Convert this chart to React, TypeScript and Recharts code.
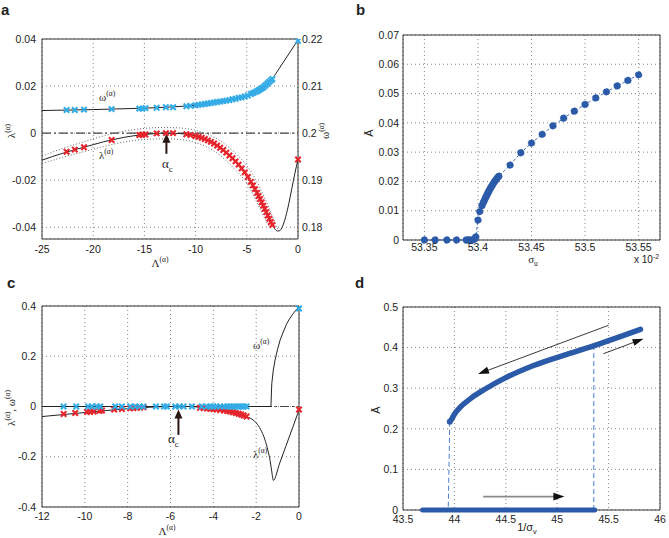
import React from "react";
import { LineChart, Line, XAxis, YAxis, CartesianGrid, ReferenceLine, ReferenceArea } from "recharts";

type P = [number, number];

// ---- panel a: lambda / omega vs Lambda ----
const aXTicks = [-25, -20, -15, -10, -5, 0];
const aLamTicks = [-0.04, -0.02, 0, 0.02, 0.04];
const aOmTicks = [0.18, 0.19, 0.2, 0.21, 0.22];
const aLamDomain: P = [-0.045, 0.04];
const aOmDomain: P = [0.1775, 0.22];

const aLamCurve: P[] = [
  [-25, -0.0115], [-24, -0.01], [-23, -0.0086], [-22, -0.0073], [-21, -0.0061], [-20, -0.0049],
  [-19, -0.0037], [-18, -0.0027], [-17, -0.0018], [-16, -0.0011], [-15, -0.0006], [-14, -0.0002],
  [-13, 0], [-12, -0.0001], [-11, -0.0004], [-10, -0.0012], [-9, -0.0027], [-8, -0.0049],
  [-7, -0.0083], [-6, -0.0124], [-5.5, -0.015], [-5, -0.018], [-4.5, -0.0215], [-4, -0.0254],
  [-3.5, -0.0298], [-3, -0.0346], [-2.6, -0.0383], [-2.3, -0.0405], [-2.0, -0.0416], [-1.8, -0.0415],
  [-1.5, -0.0395], [-1.2, -0.0355], [-0.9, -0.03], [-0.6, -0.0235], [-0.3, -0.017], [0, -0.0112],
];
const aLamUpper: P[] = [
  [-25, -0.0098], [-23, -0.0065], [-21, -0.0038], [-19, -0.0012], [-17, 0.0008], [-15, 0.002],
  [-13, 0.0024], [-11, 0.002], [-10, 0.0012], [-9, -0.0002], [-8, -0.0022], [-7, -0.0052],
  [-6, -0.009], [-5, -0.0138], [-4.5, -0.017], [-4, -0.0208], [-3.5, -0.0252], [-3, -0.03],
  [-2.5, -0.0352], [-2.2, -0.0388], [-1.9, -0.0414],
];
const aLamLower: P[] = [
  [-25, -0.013], [-23, -0.0103], [-21, -0.008], [-19, -0.0057], [-17, -0.0038], [-15, -0.0027],
  [-13, -0.0024], [-11, -0.003], [-10, -0.004], [-9, -0.0057], [-8, -0.0082], [-7, -0.0118],
  [-6, -0.0162], [-5, -0.0213], [-4.5, -0.0252], [-4, -0.0295], [-3.5, -0.034], [-3, -0.0383],
  [-2.6, -0.041],
];
const aLamMarks: P[] = [
  [-22.6, -0.0079], [-21.8, -0.007], [-20.9, -0.006], [-18.2, -0.0029], [-15.5, -0.0008], [-15.2, -0.0007],
  [-14.9, -0.0006], [-13.8, -0.0001], [-12.9, 0], [-12.2, 0], [-10.9, -0.0005], [-10.5, -0.0008],
  [-10.0, -0.0012], [-9.7, -0.0016], [-9.4, -0.002], [-9.1, -0.0025], [-8.8, -0.0031], [-8.5, -0.0037],
  [-8.2, -0.0044], [-7.9, -0.0053], [-7.6, -0.0062], [-7.3, -0.0072], [-7.0, -0.0083], [-6.7, -0.0095],
  [-6.4, -0.0107], [-6.1, -0.012], [-5.8, -0.0134], [-5.5, -0.015], [-5.2, -0.0167], [-4.9, -0.0186],
  [-4.6, -0.0207], [-4.4, -0.0222], [-4.2, -0.0238], [-4.0, -0.0254], [-3.85, -0.0267], [-3.7, -0.028],
  [-3.55, -0.0294], [-3.4, -0.0308], [-3.25, -0.0322], [-3.1, -0.0336], [-2.95, -0.035], [-2.8, -0.0364],
  [-2.65, -0.0378], [-2.5, -0.039], [0, -0.0112],
];
const aOmCurve: P[] = [
  [-25, 0.2048], [-20, 0.205], [-15, 0.2053], [-12, 0.2056], [-10, 0.2059], [-8, 0.2065],
  [-6, 0.2073], [-5, 0.2079], [-4, 0.2089], [-3.5, 0.2095], [-3, 0.2102], [-2.5, 0.2115],
  [-2.3, 0.2122], [0, 0.2198],
];
const aOmMarks: P[] = [
  [-22.6, 0.2049], [-21.8, 0.2049], [-20.9, 0.205], [-18.2, 0.2051], [-15.5, 0.2052], [-15.2, 0.2052],
  [-14.9, 0.2053], [-13.8, 0.2054], [-12.9, 0.2055], [-12.2, 0.2055], [-10.9, 0.2057], [-10.5, 0.2058],
  [-10.0, 0.2059], [-9.7, 0.206], [-9.4, 0.2061], [-9.1, 0.2062], [-8.8, 0.2063], [-8.5, 0.2064],
  [-8.2, 0.2065], [-7.9, 0.2066], [-7.6, 0.2067], [-7.3, 0.2068], [-7.0, 0.2069], [-6.7, 0.207],
  [-6.4, 0.2072], [-6.1, 0.2073], [-5.8, 0.2075], [-5.5, 0.2076], [-5.2, 0.2078], [-4.9, 0.208],
  [-4.6, 0.2083], [-4.4, 0.2085], [-4.2, 0.2087], [-4.0, 0.2089], [-3.85, 0.2091], [-3.7, 0.2093],
  [-3.55, 0.2095], [-3.4, 0.2097], [-3.25, 0.21], [-3.1, 0.2103], [-2.95, 0.2106], [-2.8, 0.2109],
  [-2.65, 0.2112], [-2.5, 0.2115], [0, 0.2196],
];
const aArrow: P[] = [[-12.85, -0.0088], [-12.85, -0.0003]];

// ---- panel b: A vs sigma_u ----
const bXTicks = [53.35, 53.4, 53.45, 53.5, 53.55];
const bYTicks = [0, 0.01, 0.02, 0.03, 0.04, 0.05, 0.06, 0.07];
const bPoints: P[] = [
  [53.35, 0], [53.36, 0], [53.371, 0], [53.38, 0], [53.389, 0], [53.391, 0], [53.393, 0], [53.395, 0],
  [53.397, 0.0003], [53.398, 0.0011], [53.4, 0.0068], [53.4016, 0.0097], [53.4037, 0.0117],
  [53.405, 0.0128], [53.4062, 0.0137], [53.4073, 0.0146], [53.4084, 0.0154], [53.4094, 0.0161],
  [53.4103, 0.0168], [53.4114, 0.0175], [53.4125, 0.0182], [53.4137, 0.0189], [53.4149, 0.0196],
  [53.416, 0.0202], [53.4171, 0.0207], [53.4183, 0.0213], [53.4195, 0.0218], [53.43, 0.0256],
  [53.44, 0.0298], [53.45, 0.0331], [53.46, 0.0361], [53.47, 0.039], [53.48, 0.0416], [53.49, 0.044],
  [53.5, 0.0463], [53.51, 0.0485], [53.52, 0.0506], [53.53, 0.0526], [53.54, 0.0545], [53.55, 0.0564],
];

// ---- panel c ----
const cXTicks = [-12, -10, -8, -6, -4, -2, 0];
const cYTicks = [-0.4, -0.2, 0, 0.2, 0.4];
const cLamCurve: P[] = [
  [-12, -0.04], [-11, -0.032], [-10, -0.024], [-9, -0.016], [-8, -0.009], [-7, -0.003], [-6.5, -0.001],
  [-6, 0], [-5, 0], [-4.6, -0.004], [-4, -0.01], [-3.5, -0.016], [-3, -0.024], [-2.5, -0.04],
  [-2.2, -0.05], [-2.0, -0.065], [-1.8, -0.09], [-1.6, -0.13], [-1.45, -0.175], [-1.35, -0.215],
  [-1.27, -0.26], [-1.2, -0.294], [-0.9, -0.225], [-0.6, -0.155], [-0.3, -0.085], [0, -0.014],
];
const cOmCurve: P[] = [
  [-12, 0], [-1.31, 0], [-1.29, 0.05], [-1.27, 0.092], [-1.2, 0.145], [-1.12, 0.184], [-1.0, 0.228],
  [-0.88, 0.265], [-0.72, 0.3], [-0.57, 0.33], [-0.42, 0.352], [-0.27, 0.37], [-0.13, 0.385], [0, 0.395],
];
const cLamMarks: P[] = [
  [-10.99, -0.03], [-10.45, -0.026], [-9.9, -0.022], [-9.75, -0.021], [-9.59, -0.02], [-9.31, -0.017],
  [-9.2, -0.016], [-8.63, -0.012], [-8.27, -0.01], [-7.88, -0.007], [-7.73, -0.006], [-7.57, -0.005],
  [-7.42, -0.004], [-7.26, -0.003], [-4.62, -0.005], [-4.46, -0.006], [-4.3, -0.008], [-4.15, -0.009],
  [-4.0, -0.01], [-3.85, -0.012], [-3.68, -0.014], [-3.5, -0.016], [-3.35, -0.018], [-3.22, -0.02],
  [-3.08, -0.023], [-2.95, -0.026], [-2.82, -0.029], [-2.7, -0.032], [-2.58, -0.036], [-2.45, -0.04],
  [0, -0.012],
];
const cOmMarks: P[] = [
  [-10.99, 0], [-10.4, 0], [-9.85, 0], [-9.67, 0], [-9.43, 0], [-9.28, 0], [-8.58, 0], [-8.27, 0],
  [-7.88, 0], [-7.65, 0], [-7.45, 0], [-7.26, 0], [-6.68, 0], [-6.3, 0], [-6.17, 0], [-5.78, 0],
  [-5.58, 0], [-5.39, 0], [-5.0, 0], [-4.54, 0], [-4.3, 0], [-4.15, 0], [-4.0, 0], [-3.85, 0],
  [-3.68, 0], [-3.5, 0], [-3.35, 0], [-3.22, 0], [-3.08, 0], [-2.95, 0], [-2.82, 0], [-2.7, 0],
  [-2.58, 0], [-2.45, 0], [0, 0.39],
];
const cArrow: P[] = [[-5.63, -0.113], [-5.63, -0.012]];

// ---- panel d: hysteresis ----
const dXTicks = [43.5, 44, 44.5, 45, 45.5, 46];
const dYTicks = [0, 0.1, 0.2, 0.3, 0.4, 0.5];
const dUpper: P[] = [
  [43.97, 0.222], [44.0, 0.236], [44.06, 0.254], [44.16, 0.275], [44.3, 0.298], [44.5, 0.326],
  [44.77, 0.356], [45.1, 0.384], [45.36, 0.405], [45.6, 0.426], [45.81, 0.445],
];
const dStart: P[] = [[43.955, 0.2175]];
const dLower: P[] = [[43.69, 0], [45.365, 0]];
const dJumpDown: P[] = [[43.955, 0.2175], [43.94, 0]];
const dJumpUp: P[] = [[45.356, 0], [45.356, 0.402]];
const dArrowBack: P[] = [[45.5, 0.455], [44.23, 0.335]];
const dArrowUp: P[] = [[45.45, 0.385], [45.84, 0.422]];
const dArrowLow: P[] = [[44.28, 0.033], [45.07, 0.033]];

const BLUE_X = "#34ace6";
const RED_X = "#e5242c";
const DOT_BLUE = "#2b5ba8";
const INK = "#222";
const SANS = "Liberation Sans, Arial, sans-serif";
const SERIF = "Liberation Serif, Times New Roman, serif";
const tickFont = { fontSize: 10.5, fill: INK, fontFamily: SANS };

const rows = (pts: P[]) => pts.map(([x, y]) => ({ x, y }));
const seg = (pts: P[]) => pts.map(([x, y]) => ({ x, y }));

const xMark = (color: string) => (p: any) => {
  const { cx, cy, index } = p;
  if (cx == null || cy == null) return <g key={index} />;
  const s = 2.7;
  return (
    <path key={index} d={`M${cx - s},${cy - s}L${cx + s},${cy + s}M${cx - s},${cy + s}L${cx + s},${cy - s}`}
      stroke={color} strokeWidth={2.1} fill="none" />
  );
};

const arrowShape = (shaft: string, head: string, w = 1, hl = 9, hw = 3.3) => (p: any) => {
  const { x1, y1, x2, y2 } = p;
  if ([x1, y1, x2, y2].some((v) => v == null || isNaN(v))) return <g />;
  const dx = x2 - x1, dy = y2 - y1;
  const len = Math.hypot(dx, dy) || 1;
  const ux = dx / len, uy = dy / len;
  const bx = x2 - ux * hl, by = y2 - uy * hl;
  const pts = `${x2},${y2} ${bx - uy * hw},${by + ux * hw} ${bx + uy * hw},${by - ux * hw}`;
  return (
    <g>
      <line x1={x1} y1={y1} x2={bx + ux * 1} y2={by + uy * 1} stroke={shaft} strokeWidth={w} />
      <polygon points={pts} fill={head} />
    </g>
  );
};

type Part = [string, "n" | "sup" | "sub"];
function Lbl({ x, y, parts, size = 12, anchor = "start", rotate = false, family = SERIF, weight }: {
  x: number; y: number; parts: Part[]; size?: number; anchor?: "start" | "middle" | "end";
  rotate?: boolean; family?: string; weight?: string;
}) {
  let shift = 0;
  const spans = parts.map(([t, k], i) => {
    const target = k === "sup" ? -size * 0.42 : k === "sub" ? size * 0.3 : 0;
    const dy = target - shift;
    shift = target;
    return (
      <tspan key={i} dy={dy} fontSize={k === "n" ? size : size * 0.68}>{t}</tspan>
    );
  });
  return (
    <text x={x} y={y} textAnchor={anchor} fontFamily={family} fontSize={size} fill={INK} fontWeight={weight}
      transform={rotate ? `rotate(-90 ${x} ${y})` : undefined}>
      {spans}
    </text>
  );
}

const grid = <CartesianGrid stroke="#777" strokeDasharray="1 3" strokeWidth={0.9} />;
const dashDot = "9 3 2 3";

function PanelA() {
  return (
    <LineChart width={335} height={268} margin={{ top: 39, right: 0, bottom: 0, left: 0 }}>
      <CartesianGrid yAxisId="l" stroke="#777" strokeDasharray="1 3" strokeWidth={0.9} />
      <XAxis dataKey="x" type="number" domain={[-25, 0]} ticks={aXTicks} height={29} tickLine={false}
        axisLine={false} tickSize={0} tickMargin={7} tick={tickFont} />
      <YAxis yAxisId="l" type="number" domain={aLamDomain} ticks={aLamTicks} allowDataOverflow width={42}
        tickLine={false} axisLine={false} tickSize={0} tickMargin={6} tick={tickFont} />
      <YAxis yAxisId="r" orientation="right" type="number" domain={aOmDomain} ticks={aOmTicks} allowDataOverflow
        width={37} tickLine={false} axisLine={false} tickSize={0} tickMargin={4} tick={tickFont} />
      <ReferenceLine yAxisId="l" y={0} stroke="#444" strokeWidth={1.2} strokeDasharray={dashDot} />
      <Line yAxisId="l" data={rows(aLamUpper)} dataKey="y" type="monotone" stroke="#555" strokeWidth={0.9}
        strokeDasharray="1 2" dot={false} activeDot={false} isAnimationActive={false} />
      <Line yAxisId="l" data={rows(aLamLower)} dataKey="y" type="monotone" stroke="#555" strokeWidth={0.9}
        strokeDasharray="1 2" dot={false} activeDot={false} isAnimationActive={false} />
      <Line yAxisId="l" data={rows(aLamCurve)} dataKey="y" type="monotone" stroke={INK} strokeWidth={1}
        dot={false} activeDot={false} isAnimationActive={false} />
      <Line yAxisId="r" data={rows(aOmCurve)} dataKey="y" type="linear" stroke={INK} strokeWidth={1}
        dot={false} activeDot={false} isAnimationActive={false} />
      <Line yAxisId="l" data={rows(aLamMarks)} dataKey="y" stroke="none" dot={xMark(RED_X)} activeDot={false}
        isAnimationActive={false} />
      <Line yAxisId="r" data={rows(aOmMarks)} dataKey="y" stroke="none" dot={xMark(BLUE_X)} activeDot={false}
        isAnimationActive={false} />
      <ReferenceLine yAxisId="l" segment={seg(aArrow)} shape={arrowShape("#2a1714", "#2a1714", 2, 9, 4)} />
      <ReferenceArea yAxisId="l" x1={-25} x2={0} y1={aLamDomain[0]} y2={aLamDomain[1]} fill="none"
        stroke="#333" strokeWidth={1} />
    </LineChart>
  );
}

function PanelB() {
  return (
    <LineChart width={334} height={268} margin={{ top: 35, right: 9, bottom: 0, left: 0 }}>
      {grid}
      <XAxis dataKey="x" type="number" domain={[53.33, 53.57]} allowDataOverflow ticks={bXTicks} height={28}
        tickLine={false} axisLine={false} tickSize={0} tickMargin={4} tick={tickFont} />
      <YAxis type="number" domain={[0, 0.07]} ticks={bYTicks} width={68} tickLine={false} axisLine={false}
        tickSize={0} tickMargin={4} tick={tickFont} />
      <Line data={rows(bPoints)} dataKey="y" type="linear" stroke={DOT_BLUE} strokeWidth={0.9}
        strokeDasharray="3 2" dot={{ r: 3.4, fill: DOT_BLUE, stroke: DOT_BLUE, strokeWidth: 0.5 }}
        activeDot={false} isAnimationActive={false} />
      <ReferenceArea x1={53.33} x2={53.57} y1={0} y2={0.07} fill="none" stroke="#333" strokeWidth={1} />
    </LineChart>
  );
}

function PanelC() {
  return (
    <LineChart width={335} height={270} margin={{ top: 38, right: 36, bottom: 0, left: 0 }}>
      {grid}
      <XAxis dataKey="x" type="number" domain={[-12, 0]} ticks={cXTicks} height={31} tickLine={false}
        axisLine={false} tickSize={0} tickMargin={6} tick={tickFont} />
      <YAxis type="number" domain={[-0.4, 0.4]} ticks={cYTicks} width={42} tickLine={false} axisLine={false}
        tickSize={0} tickMargin={6} tick={tickFont} />
      <ReferenceLine y={0} stroke="#444" strokeWidth={1.2} strokeDasharray={dashDot} />
      <Line data={rows(cLamCurve)} dataKey="y" type="monotone" stroke={INK} strokeWidth={1} dot={false}
        activeDot={false} isAnimationActive={false} />
      <Line data={rows(cOmCurve)} dataKey="y" type="linear" stroke={INK} strokeWidth={1} dot={false}
        activeDot={false} isAnimationActive={false} />
      <Line data={rows(cLamMarks)} dataKey="y" stroke="none" dot={xMark(RED_X)} activeDot={false}
        isAnimationActive={false} />
      <Line data={rows(cOmMarks)} dataKey="y" stroke="none" dot={xMark(BLUE_X)} activeDot={false}
        isAnimationActive={false} />
      <ReferenceLine segment={seg(cArrow)} shape={arrowShape("#2a1714", "#2a1714", 2, 9, 4)} />
      <ReferenceArea x1={-12} x2={0} y1={-0.4} y2={0.4} fill="none" stroke="#333" strokeWidth={1} />
    </LineChart>
  );
}

function PanelD() {
  return (
    <LineChart width={334} height={270} margin={{ top: 39, right: 9, bottom: 0, left: 0 }}>
      {grid}
      <XAxis dataKey="x" type="number" domain={[43.5, 46]} ticks={dXTicks} height={28} tickLine={false}
        axisLine={false} tickSize={0} tickMargin={6} tick={tickFont} />
      <YAxis type="number" domain={[0, 0.5]} ticks={dYTicks} width={68} tickLine={false} axisLine={false}
        tickSize={0} tickMargin={5} tick={tickFont} />
      <Line data={rows(dJumpDown)} dataKey="y" type="linear" stroke="#4a7bd0" strokeWidth={1}
        strokeDasharray="5 3" dot={false} activeDot={false} isAnimationActive={false} />
      <Line data={rows(dJumpUp)} dataKey="y" type="linear" stroke="#4a7bd0" strokeWidth={1}
        strokeDasharray="5 3" dot={false} activeDot={false} isAnimationActive={false} />
      <Line data={rows(dLower)} dataKey="y" type="linear" stroke={DOT_BLUE} strokeWidth={5}
        strokeLinecap="round" dot={false} activeDot={false} isAnimationActive={false} />
      <Line data={rows(dUpper)} dataKey="y" type="monotone" stroke={DOT_BLUE} strokeWidth={5.5}
        strokeLinecap="round" dot={false} activeDot={false} isAnimationActive={false} />
      <Line data={rows(dStart)} dataKey="y" stroke="none" dot={{ r: 3, fill: DOT_BLUE, stroke: "none" }}
        activeDot={false} isAnimationActive={false} />
      <ReferenceLine segment={seg(dArrowBack)} shape={arrowShape("#222", "#111", 0.9, 11, 3.5)} />
      <ReferenceLine segment={seg(dArrowUp)} shape={arrowShape("#222", "#111", 0.9, 11, 3.5)} />
      <ReferenceLine segment={seg(dArrowLow)} shape={arrowShape("#8a8a8a", "#111", 1.6, 11, 3.8)} />
      <ReferenceArea x1={43.5} x2={46} y1={0} y2={0.5} fill="none" stroke="#333" strokeWidth={1} />
    </LineChart>
  );
}

const sup = (t: string): Part => [t, "sup"];
const n = (t: string): Part => [t, "n"];
const sub = (t: string): Part => [t, "sub"];

export default function App() {
  return (
    <div style={{ position: "absolute", left: 0, top: 0, width: 669, height: 538, background: "#fff" }}>
      <div style={{ position: "absolute", left: 0, top: 0 }}><PanelA /></div>
      <div style={{ position: "absolute", left: 335, top: 0 }}><PanelB /></div>
      <div style={{ position: "absolute", left: 0, top: 268 }}><PanelC /></div>
      <div style={{ position: "absolute", left: 335, top: 268 }}><PanelD /></div>
      <svg width={669} height={538} style={{ position: "absolute", left: 0, top: 0, pointerEvents: "none" }}>
        <Lbl x={1} y={15} parts={[n("a")]} size={15} family={SANS} weight="bold" />
        <Lbl x={356} y={15} parts={[n("b")]} size={15} family={SANS} weight="bold" />
        <Lbl x={7} y={288} parts={[n("c")]} size={15} family={SANS} weight="bold" />
        <Lbl x={355} y={288} parts={[n("d")]} size={15} family={SANS} weight="bold" />

        {/* panel a */}
        <Lbl x={99} y={101} parts={[n("ω"), sup("(α)")]} size={11} />
        <Lbl x={99} y={159} parts={[n("λ"), sup("(α)")]} size={11} />
        <Lbl x={162} y={168} parts={[n("α"), sub("c")]} size={13} />
        <Lbl x={15} y={131} parts={[n("λ"), sup("(α)")]} size={11} anchor="middle" rotate />
        <Lbl x={329} y={131} parts={[n("ω"), sup("(α)")]} size={11} anchor="middle" rotate />
        <Lbl x={160} y={267} parts={[n("Λ"), sup("(α)")]} size={11} anchor="middle" />

        {/* panel b */}
        <Lbl x={373} y={133} parts={[n("Ā")]} size={11} anchor="middle" rotate family={SANS} />
        <Lbl x={533} y={263} parts={[n("σ"), sub("u")]} size={11} anchor="middle" />
        <Lbl x={634} y={263} parts={[n("x 10"), sup("-2")]} size={10} family={SANS} />

        {/* panel c */}
        <Lbl x={253} y={349} parts={[n("ω"), sup("(α)")]} size={11} />
        <Lbl x={253} y={458} parts={[n("λ"), sup("(α)")]} size={11} />
        <Lbl x={168} y={443} parts={[n("α"), sub("c")]} size={13} />
        <Lbl x={15} y={408} parts={[n("λ"), sup("(α)"), n(", ω"), sup("(α)")]} size={11} anchor="middle" rotate />
        <Lbl x={167} y={535} parts={[n("Λ"), sup("(α)")]} size={11} anchor="middle" />

        {/* panel d */}
        <Lbl x={380} y={410} parts={[n("Ā")]} size={11} anchor="middle" rotate family={SANS} />
        <Lbl x={527} y={531} parts={[n("1/σ"), sub("v")]} size={11} anchor="middle" family={SANS} />
      </svg>
    </div>
  );
}
